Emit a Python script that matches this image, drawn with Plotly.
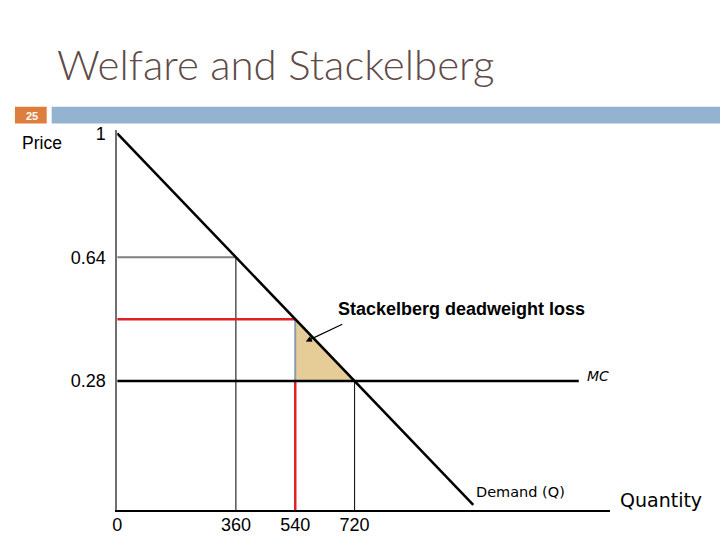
import plotly.graph_objects as go

# ---- data ----
demand_q = [0, 1080]
demand_p = [1.0, -0.08]
mc_value = 0.28
mc_q_end = 1400
monopoly_q = 360          # Stackelberg leader quantity
monopoly_p = 0.64
stack_q = 540             # Stackelberg total quantity
stack_p = 0.46
comp_q = 720              # competitive quantity
x_tick_vals = [0, 360, 540, 720]
x_tick_text = ["0", "360", "540", "720"]
y_tick_vals = [0.28, 0.64, 1.0]
y_tick_text = ["0.28", "0.64", "1"]

W, H = 720, 540
# axis ranges
x_range = [0, 1494]
y_range = [-0.0958, 1.0086]
base = y_range[0]


def px(x, y):
    return x / W, 1 - y / H


fig = go.Figure()

# deadweight loss triangle
fig.add_trace(go.Scatter(
    x=[stack_q, stack_q, comp_q, stack_q],
    y=[stack_p, mc_value, mc_value, stack_p],
    fill="toself", fillcolor="#E6CD98", mode="lines",
    line=dict(color="#8A9BB0", width=2), hoverinfo="skip", cliponaxis=False))

# 0.64 guide lines
fig.add_trace(go.Scatter(x=[0, monopoly_q], y=[monopoly_p, monopoly_p], mode="lines",
                         line=dict(color="#7F7F7F", width=2), cliponaxis=False))
fig.add_trace(go.Scatter(x=[monopoly_q, monopoly_q], y=[monopoly_p, base], mode="lines",
                         line=dict(color="black", width=1), cliponaxis=False))
# Stackelberg price / quantity (red)
fig.add_trace(go.Scatter(x=[0, stack_q], y=[stack_p, stack_p], mode="lines",
                         line=dict(color="#E02027", width=2.5), cliponaxis=False))
fig.add_trace(go.Scatter(x=[stack_q, stack_q], y=[mc_value, base], mode="lines",
                         line=dict(color="#E02027", width=2.5), cliponaxis=False))
# competitive quantity
fig.add_trace(go.Scatter(x=[comp_q, comp_q], y=[mc_value, base], mode="lines",
                         line=dict(color="black", width=1), cliponaxis=False))
# MC
fig.add_trace(go.Scatter(x=[0, mc_q_end], y=[mc_value, mc_value], mode="lines",
                         line=dict(color="black", width=2.5), cliponaxis=False))
# Demand
fig.add_trace(go.Scatter(x=demand_q, y=demand_p, mode="lines",
                         line=dict(color="black", width=2.5), cliponaxis=False))

# slide decoration
fig.add_shape(type="rect", xref="paper", yref="paper",
              x0=10 / W, x1=42 / W, y0=1 - 118 / H, y1=1 - 101 / H,
              fillcolor="#DD7E3E", line=dict(width=0), layer="below")
fig.add_shape(type="rect", xref="paper", yref="paper",
              x0=47 / W, x1=1, y0=1 - 118 / H, y1=1 - 101 / H,
              fillcolor="#93B3D0", line=dict(width=0), layer="below")

ann = []


def text(x, y, s, size, color="black", family="Liberation Sans, Arial", xanchor="center", weight=None, **kw):
    xx, yy = px(x, y)
    f = dict(size=size, color=color, family=family)
    if weight:
        f["weight"] = weight
    ann.append(dict(x=xx, y=yy, xref="paper", yref="paper", text=s, showarrow=False,
                    xanchor=xanchor, yanchor="middle", borderpad=0, font=f, **kw))


text(51, 58, "Welfare and Stackelberg", 42, color="#5E4A46", family="Lato", xanchor="left", weight=300)
text(27, 110, "<b>25</b>", 11, color="white")
text(16, 138, "Price", 17.5, xanchor="left")
text(618, 499, "Quantity", 19, family="DejaVu Sans", xanchor="left")
text(473, 491, "Demand (Q)", 14.5, family="DejaVu Sans", xanchor="left")
text(585, 374, "<i>MC</i>", 14, family="DejaVu Sans", xanchor="left")
text(460, 306, "<b>Stackelberg deadweight loss</b>", 18)

# arrow
ann.append(dict(x=572, y=0.395, xref="x", yref="y", ax=38, ay=-18, text="",
                showarrow=True, arrowhead=2, arrowsize=1, arrowwidth=1.2, arrowcolor="black"))

fig.update_layout(
    width=W, height=H, margin=dict(l=0, r=0, t=0, b=0),
    paper_bgcolor="white", plot_bgcolor="white", showlegend=False,
    annotations=ann,
    xaxis=dict(domain=[113 / W, 609 / W], range=x_range, showgrid=False, zeroline=False,
               showline=True, linecolor="black", linewidth=1.5,
               tickvals=x_tick_vals, ticktext=x_tick_text, ticks="", ticklabelstandoff=-3,
               tickfont=dict(family="Liberation Sans, Arial", size=18, color="black")),
    yaxis=dict(domain=[(H - 510) / H, (H - 125) / H], range=y_range, showgrid=False, zeroline=False,
               showline=True, linecolor="#707070", linewidth=1.5,
               tickvals=y_tick_vals, ticktext=y_tick_text, ticks="", ticklabelstandoff=6,
               tickfont=dict(family="Liberation Sans, Arial", size=18, color="black")),
)

fig.write_html("out.html")
